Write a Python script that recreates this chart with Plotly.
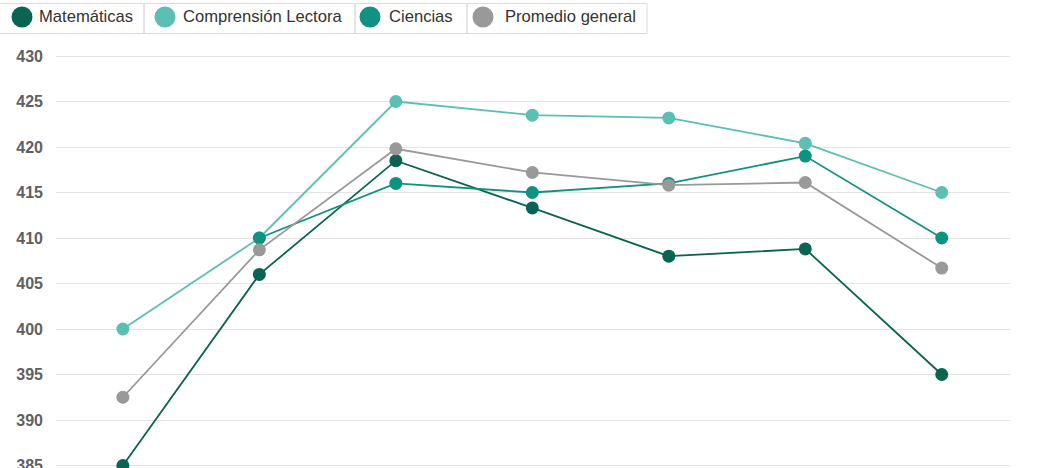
import plotly.graph_objects as go

categories = ["1", "2", "3", "4", "5", "6", "7"]
matematicas = [385.0, 406.0, 418.5, 413.3, 408.0, 408.8, 395.0]
comprension = [400.0, 410.0, 425.0, 423.5, 423.2, 420.4, 415.0]
ciencias = [None, 410.0, 416.0, 415.0, 416.0, 419.0, 410.0]
promedio = [392.5, 408.7, 419.8, 417.2, 415.8, 416.1, 406.7]

series_names = ["Matemáticas", "Comprensión Lectora", "Ciencias", "Promedio general"]
series_values = [matematicas, comprension, ciencias, promedio]
colors = ["#0a6452", "#5bbfb4", "#0f9280", "#999999"]
y_ticks = [385, 390, 395, 400, 405, 410, 415, 420, 425, 430]

W, H = 1047, 484
ML, MR, MT, MB = 56, 1047 - 1010, 45, 16
PW, PH = W - ML - MR, H - MT - MB

fig = go.Figure()
for name, vals, col in zip(series_names, series_values, colors):
    fig.add_trace(go.Scatter(
        x=categories, y=vals, name=name, mode="lines+markers",
        line=dict(color=col, width=1.8),
        marker=dict(color=col, size=13),
        showlegend=False,
    ))

def px_x(p):
    return (p - ML) / PW

def px_y(p):
    return (H - MB - p) / PH

# custom boxed legend (pixel positions)
box_edges = [-2, 144, 355, 467, 647]
circle_cx = [22, 165, 370, 483]
text_x = [39, 183, 389, 505]
shapes = []
annotations = []
for i, name in enumerate(series_names):
    shapes.append(dict(type="rect", xref="paper", yref="paper",
                       x0=px_x(box_edges[i]), x1=px_x(box_edges[i + 1]),
                       y0=px_y(33.5), y1=px_y(3.5),
                       line=dict(color="#dcdcdc", width=1), fillcolor="rgba(0,0,0,0)"))
    shapes.append(dict(type="circle", xref="paper", yref="paper",
                       x0=px_x(circle_cx[i] - 10.5), x1=px_x(circle_cx[i] + 10.5),
                       y0=px_y(17 + 10.5), y1=px_y(17 - 10.5),
                       line=dict(width=0), fillcolor=colors[i]))
    annotations.append(dict(text=name, xref="paper", yref="paper",
                            x=px_x(text_x[i] - 2), y=px_y(17), xanchor="left", yanchor="middle",
                            showarrow=False, font=dict(size=16.6, color="#333333",
                                                       family="Liberation Sans, Arial")))

rmax = 430 + (56 - MT) / 9.1
rmin = rmax - PH / 9.1

fig.update_layout(
    width=W, height=H,
    margin=dict(l=ML, r=MR, t=MT, b=MB, autoexpand=False),
    paper_bgcolor="white", plot_bgcolor="white",
    font=dict(family="Liberation Sans, Arial"),
    shapes=shapes, annotations=annotations,
    xaxis=dict(showticklabels=False, showgrid=False, zeroline=False, showline=False,
               automargin=False, range=[-0.49, 6.5]),
    yaxis=dict(range=[rmin, rmax], tickvals=y_ticks, showgrid=True, gridcolor="#e4e4e4",
               gridwidth=1, zeroline=False, showline=False, ticks="", automargin=False,
               ticklabelstandoff=12,
               tickfont=dict(size=16, color="#606060", family="Liberation Sans, Arial",
                             weight="bold")),
)

fig.write_html("out.html", config={"displayModeBar": False},
               post_script="document.body.style.margin='0';")
